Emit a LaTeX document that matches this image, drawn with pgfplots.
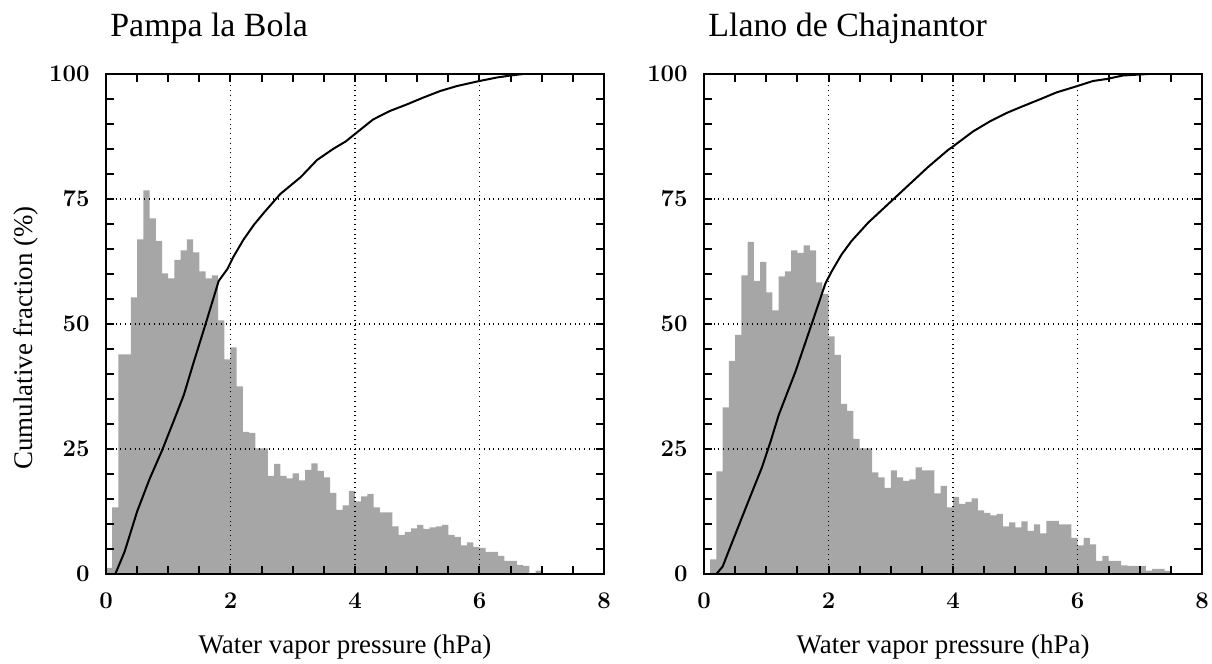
\documentclass[border=0pt]{standalone}
\usepackage{fontspec}
\setmainfont{Liberation Serif}
\usepackage{pgfplots}
\pgfplotsset{compat=1.18}
\definecolor{histgray}{RGB}{166,166,166}

% common look of both panels
\pgfplotsset{
  vaporhist/.style={
    scale only axis, width=249bp, height=250bp,
    xmin=0, xmax=8, ymin=0, ymax=100,
    xtick={0,2,...,8}, ytick={0,25,...,100},
    minor x tick num=3, minor y tick num=4,
    tick align=inside, tick pos=both,
    major tick length=4bp, minor tick length=4bp,
    tick style={black, line width=1bp},
    axis line style={line width=1bp},
    grid=major, grid style={black, dotted, line width=0.6bp},
    axis on top,
    tick label style={font=\fontsize{11.5}{13}\selectfont\boldmath},
    xticklabel style={inner sep=0pt, anchor=north, yshift=-9.5bp},
    yticklabel style={inner sep=0pt, anchor=east, xshift=-8bp},
    xlabel={Water vapor pressure (hPa)},
    every axis x label/.style={font=\fontsize{13.5}{15}\selectfont,
      at={(axis description cs:0.48,0)}, anchor=base, yshift=-39.5bp},
    every axis title/.style={font=\fontsize{17}{19}\selectfont,
      at={(axis description cs:0,1)}, anchor=base west, inner sep=0pt,
      xshift=2bp, yshift=18.5bp},
  },
}

\begin{document}
\begin{tikzpicture}
\useasboundingbox (-53bp,-45bp) rectangle (553bp,287bp);

% ---- Pampa la Bola
\begin{axis}[vaporhist, at={(0,0)}, anchor=south west,
    title={Pampa la Bola},
    ylabel={Cumulative fraction (\%)},
    every axis y label/.style={font=\fontsize{13.5}{15}\selectfont,
      at={(axis description cs:-0.1466,0.472)}, rotate=90, anchor=base},
]
\addplot[const plot, fill=histgray, draw=none] coordinates {
  (0.0,1.2) (0.1,13.3) (0.2,43.9) (0.3,43.9) (0.4,55.3) (0.5,66.9) (0.6,76.7) (0.7,71.1) (0.8,66.6) (0.9,60.1)
  (1.0,59.1) (1.1,62.8) (1.2,64.7) (1.3,66.9) (1.4,64.3) (1.5,60.5) (1.6,59.1) (1.7,59.7) (1.8,50.7) (1.9,42.9)
  (2.0,45.3) (2.1,37.5) (2.2,28.4) (2.3,28.2) (2.4,25.1) (2.5,25.1) (2.6,19.6) (2.7,22.0) (2.8,19.6) (2.9,19.1)
  (3.0,20.1) (3.1,18.7) (3.2,20.8) (3.3,22.1) (3.4,20.6) (3.5,19.3) (3.6,16.2) (3.7,12.8) (3.8,13.7) (3.9,16.6)
  (4.0,14.5) (4.1,15.5) (4.2,16.0) (4.3,13.3) (4.4,12.3) (4.5,12.3) (4.6,9.5) (4.7,7.8) (4.8,8.4) (4.9,9.1)
  (5.0,9.8) (5.1,9.0) (5.2,9.3) (5.3,9.5) (5.4,9.8) (5.5,7.8) (5.6,7.4) (5.7,5.7) (5.8,6.3) (5.9,5.4)
  (6.0,5.2) (6.1,4.4) (6.2,4.4) (6.3,3.6) (6.4,2.6) (6.5,2.6) (6.6,1.8) (6.7,1.6) (6.8,0.0) (6.9,0.7)
  (7.0,0.7)
} \closedcycle;
\addplot[black, line width=1bp, mark=none] coordinates {
  (0.15,0) (0.3,4.5) (0.5,12.5) (0.7,19) (0.9,24.7) (1.1,31) (1.25,35.8) (1.4,42) (1.6,50)
  (1.81,58.6) (1.95,61.0) (2.05,63.5) (2.21,66.9) (2.38,69.9) (2.54,72.3) (2.8,76) (3.13,79.4)
  (3.39,82.8) (3.66,85.1) (3.85,86.5) (4.0,88.0) (4.29,90.9) (4.56,92.6) (4.83,93.9) (5.1,95.3)
  (5.37,96.6) (5.64,97.6) (6.0,98.6) (6.28,99.3) (6.5,99.7) (6.7,100)
};
\end{axis}

% ---- Llano de Chajnantor
\begin{axis}[vaporhist, at={(299bp,0)}, anchor=south west,
    title={Llano de Chajnantor},
]
\addplot[const plot, fill=histgray, draw=none] coordinates {
  (0.0,0.0) (0.1,2.9) (0.2,20.5) (0.3,33.3) (0.4,42.6) (0.5,47.8) (0.6,59.7) (0.7,66.4) (0.8,58.6) (0.9,62.4)
  (1.0,56.3) (1.1,52.7) (1.2,59.5) (1.3,60.5) (1.4,64.7) (1.5,64.2) (1.6,65.7) (1.7,64.7) (1.8,58.3) (1.9,56.0)
  (2.0,47.5) (2.1,43.8) (2.2,34.0) (2.3,32.6) (2.4,27.0) (2.5,25.1) (2.6,25.1) (2.7,20.3) (2.8,19.3) (2.9,17.2)
  (3.0,20.7) (3.1,19.3) (3.2,18.6) (3.3,18.9) (3.4,21.3) (3.5,20.7) (3.6,20.7) (3.7,16.1) (3.8,17.6) (3.9,13.3)
  (4.0,15.4) (4.1,14.0) (4.2,14.4) (4.3,15.1) (4.4,12.7) (4.5,12.2) (4.6,11.7) (4.7,12.0) (4.8,9.5) (4.9,10.3)
  (5.0,9.3) (5.1,10.5) (5.2,8.6) (5.3,9.9) (5.4,8.1) (5.5,10.6) (5.6,10.6) (5.7,9.9) (5.8,9.9) (5.9,7.2)
  (6.0,5.7) (6.1,7.2) (6.2,5.9) (6.3,2.6) (6.4,3.6) (6.5,2.6) (6.6,2.6) (6.7,1.7) (6.8,1.6) (6.9,1.6)
  (7.0,1.6) (7.1,0.7) (7.2,1.0) (7.3,1.0) (7.4,0.6) (7.5,0.6)
} \closedcycle;
\addplot[black, line width=1bp, mark=none] coordinates {
  (0.2,0) (0.3,1.5) (0.4,4.7) (0.67,13.2) (0.93,21.3) (1.07,26.5) (1.2,31.8) (1.47,40.5) (1.73,50)
  (1.95,58.1) (2.05,60.5) (2.21,63.9) (2.37,66.6) (2.64,70.3) (2.96,74.0) (3.28,77.7)
  (3.6,81.4) (3.92,84.8) (4.0,85.5) (4.32,88.5) (4.59,90.5) (4.86,92.2) (5.13,93.6)
  (5.39,94.9) (5.66,96.3) (6.0,97.6) (6.25,98.6) (6.47,99.0) (6.73,99.7) (7.14,100)
};
\end{axis}
\end{tikzpicture}
\end{document}
